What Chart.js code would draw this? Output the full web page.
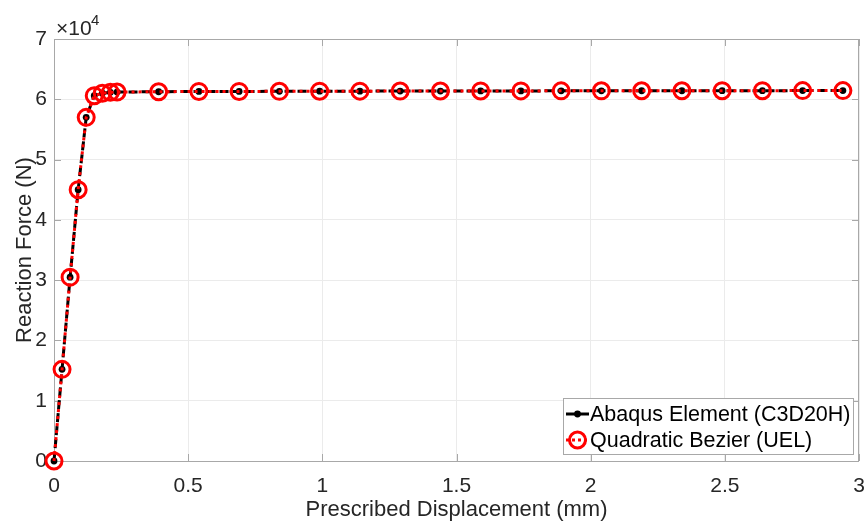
<!DOCTYPE html>
<html>
<head>
<meta charset="utf-8">
<script src="https://cdn.jsdelivr.net/npm/chart.js@4/dist/chart.umd.min.js"></script>
<style>
  html, body { margin: 0; padding: 0; background: #ffffff; }
  #wrap { width: 866px; height: 521px; }
</style>
</head>
<body>
<div id="wrap"><canvas id="c" width="866" height="521"></canvas></div>
<script>
// Prescribed displacement (mm) at each load increment
const displacement = [0, 0.03, 0.06, 0.09, 0.12, 0.15, 0.18, 0.21, 0.235,
  0.39, 0.54, 0.69, 0.84, 0.99, 1.14, 1.29, 1.44, 1.59, 1.74, 1.89,
  2.04, 2.19, 2.34, 2.49, 2.64, 2.79, 2.94];

// Reaction force (N), reference C3D20H element
const forceAbaqus = [0, 15200, 30500, 45000, 57000, 60600, 61000, 61150, 61200,
  61250, 61300, 61300, 61320, 61340, 61350, 61360, 61370, 61380, 61390, 61400,
  61410, 61420, 61420, 61430, 61430, 61440, 61440];

// Reaction force (N), quadratic Bezier user element
const forceBezier = [0, 15200, 30500, 45000, 57000, 60600, 61000, 61150, 61200,
  61250, 61300, 61300, 61320, 61340, 61350, 61360, 61370, 61380, 61390, 61400,
  61410, 61420, 61420, 61430, 61430, 61440, 61440];

const seriesLabels = ['Abaqus Element (C3D20H)', 'Quadratic Bezier (UEL)'];
const xTicks = [0, 0.5, 1, 1.5, 2, 2.5, 3];
const yTicks = [0, 10000, 20000, 30000, 40000, 50000, 60000, 70000];
const xTitle = 'Prescribed Displacement (mm)';
const yTitle = 'Reaction Force (N)';

const FONT = '"Liberation Sans", Arial, Helvetica, sans-serif';
const TEXT = '#262626';
const AXIS = '#a8a8a8';
const GRID = '#ebebeb';
const PLOT_RIGHT = 859;   // right edge of the axes box, px

function pts(xs, ys) { return xs.map((x, i) => ({ x: x, y: ys[i] })); }

// keep the axes box at a fixed right edge whatever the label overhang is
const pinArea = {
  id: 'pinArea',
  afterLayout(chart) {
    const a = chart.chartArea, xs = chart.scales.x;
    a.right = PLOT_RIGHT;
    a.width = a.right - a.left;
    xs.right = PLOT_RIGHT;
    xs.width = xs.right - xs.left;
    xs.configure();
  }
};

// box, inner tick marks, titles, exponent and legend
const decorations = {
  id: 'decorations',
  beforeDatasetsDraw(chart) {
    const { ctx, chartArea: a, scales } = chart;
    ctx.save();
    ctx.strokeStyle = AXIS;
    ctx.lineWidth = 1;
    ctx.strokeRect(a.left + 0.5, a.top + 0.5, a.right - a.left - 1, a.bottom - a.top);
    const tl = 7;
    ctx.beginPath();
    xTicks.forEach(v => {
      const px = Math.round(scales.x.getPixelForValue(v)) + 0.5;
      ctx.moveTo(px, a.bottom); ctx.lineTo(px, a.bottom - tl);
      ctx.moveTo(px, a.top); ctx.lineTo(px, a.top + tl);
    });
    yTicks.forEach(v => {
      const py = Math.round(scales.y.getPixelForValue(v)) + 0.5;
      ctx.moveTo(a.left, py); ctx.lineTo(a.left + tl, py);
      ctx.moveTo(a.right, py); ctx.lineTo(a.right - tl, py);
    });
    ctx.stroke();
    ctx.restore();
  },
  afterDraw(chart) {
    const { ctx, chartArea: a } = chart;
    ctx.save();
    ctx.fillStyle = TEXT;
    // axis titles
    ctx.font = '22px ' + FONT;
    ctx.textAlign = 'center';
    ctx.textBaseline = 'alphabetic';
    ctx.fillText(xTitle, (a.left + a.right) / 2, 516);
    ctx.save();
    ctx.translate(31, (a.top + a.bottom) / 2);
    ctx.rotate(-Math.PI / 2);
    ctx.fillText(yTitle, 0, 0);
    ctx.restore();
    // multiplier
    ctx.textAlign = 'left';
    ctx.font = '21px ' + FONT;
    ctx.fillText('\u00d710', 56, 35);
    ctx.font = '15px ' + FONT;
    ctx.fillText('4', 91, 25);

    // legend
    const bw = 291, bh = 57;
    const bx = Math.round(a.right) - 5 - bw, by = 398;
    ctx.fillStyle = '#ffffff';
    ctx.fillRect(bx, by, bw, bh);
    ctx.strokeStyle = AXIS;
    ctx.lineWidth = 1;
    ctx.strokeRect(bx + 0.5, by + 0.5, bw - 1, bh - 1);
    const rows = [by + 16, by + 42];
    chart.data.datasets.forEach((ds) => {
      const y = rows[ds.legendRow];
      const x0 = bx + 3, x1 = bx + 26, xm = (x0 + x1) / 2;
      ctx.save();
      ctx.strokeStyle = ds.borderColor;
      ctx.lineWidth = ds.borderWidth;
      ctx.setLineDash(ds.legendDash);
      ctx.beginPath();
      ctx.moveTo(x0, y); ctx.lineTo(x1, y);
      ctx.stroke();
      ctx.setLineDash([]);
      ctx.beginPath();
      ctx.arc(xm, y, ds.pointRadius, 0, Math.PI * 2);
      if (ds.pointBorderWidth > 0) {
        ctx.lineWidth = ds.pointBorderWidth;
        ctx.strokeStyle = ds.pointBorderColor;
        ctx.stroke();
      } else {
        ctx.fillStyle = ds.pointBackgroundColor;
        ctx.fill();
      }
      ctx.restore();
      ctx.fillStyle = '#000000';
      ctx.font = '21.5px ' + FONT;
      ctx.textAlign = 'left';
      ctx.textBaseline = 'middle';
      ctx.fillText(ds.label, x1 + 1, y + 1);
    });
    ctx.restore();
  }
};

function zeroPadding(s) {
  s.paddingLeft = 0; s.paddingRight = 0;
  s.paddingTop = 0; s.paddingBottom = 0;
}

new Chart(document.getElementById('c'), {
  type: 'line',
  data: {
    datasets: [
      {
        label: seriesLabels[1],
        legendRow: 1,
        legendDash: [3, 3],
        data: pts(displacement, forceBezier),
        borderColor: '#ff0000',
        borderWidth: 3,
        borderDash: [3, 4],
        pointRadius: 8,
        pointBorderWidth: 3,
        pointBorderColor: '#ff0000',
        pointBackgroundColor: 'rgba(0,0,0,0)',
        pointHoverRadius: 8,
        tension: 0,
        clip: false,
        order: 0
      },
      {
        label: seriesLabels[0],
        legendRow: 0,
        legendDash: [],
        data: pts(displacement, forceAbaqus),
        borderColor: '#000000',
        borderWidth: 3,
        borderDash: [9, 4],
        pointRadius: 3.4,
        pointBorderWidth: 0,
        pointBorderColor: '#000000',
        pointBackgroundColor: '#000000',
        pointHoverRadius: 3.4,
        tension: 0,
        clip: false,
        order: 1
      }
    ]
  },
  options: {
    responsive: false,
    animation: false,
    devicePixelRatio: 1,
    layout: { padding: { top: 39, right: 8, left: 0, bottom: 0 } },
    plugins: { legend: { display: false }, tooltip: { enabled: false } },
    scales: {
      x: {
        type: 'linear',
        min: 0, max: 3,
        afterFit(s) { s.height = 60; zeroPadding(s); },
        afterBuildTicks(s) { s.ticks = xTicks.map(v => ({ value: v })); },
        ticks: {
          padding: 13,
          color: TEXT,
          font: { family: FONT, size: 21 },
          maxRotation: 0,
          callback: v => String(v)
        },
        grid: { color: GRID, drawTicks: false },
        border: { display: false }
      },
      y: {
        type: 'linear',
        min: 0, max: 70000,
        afterFit(s) { s.width = 54; zeroPadding(s); },
        afterBuildTicks(s) { s.ticks = yTicks.map(v => ({ value: v })); },
        ticks: {
          padding: 7,
          color: TEXT,
          font: { family: FONT, size: 21 },
          callback: v => String(v / 10000)
        },
        grid: { color: GRID, drawTicks: false },
        border: { display: false }
      }
    }
  },
  plugins: [pinArea, decorations]
});
</script>
</body>
</html>
